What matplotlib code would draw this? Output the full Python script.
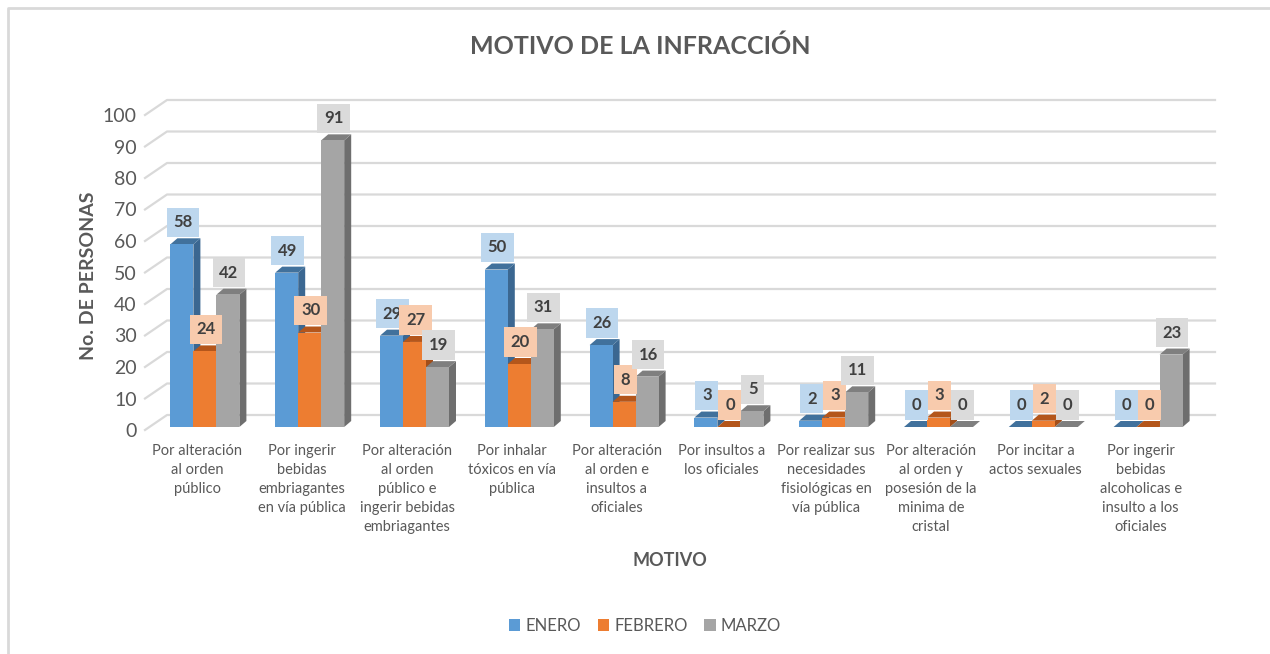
import matplotlib
matplotlib.use("Agg")
import matplotlib.pyplot as plt
from matplotlib.patches import Polygon, Patch
from matplotlib.lines import Line2D
import numpy as np

plt.rcParams['font.family'] = ['Lato', 'DejaVu Sans']

categories = [
    "Por alteración\nal orden\npúblico",
    "Por ingerir\nbebidas\nembriagantes\nen vía pública",
    "Por alteración\nal orden\npúblico e\ningerir bebidas\nembriagantes",
    "Por inhalar\ntóxicos en vía\npública",
    "Por alteración\nal orden e\ninsultos a\noficiales",
    "Por insultos a\nlos oficiales",
    "Por realizar sus\nnecesidades\nfisiológicas en\nvía pública",
    "Por alteración\nal orden y\nposesión de la\nminima de\ncristal",
    "Por incitar a\nactos sexuales",
    "Por ingerir\nbebidas\nalcoholicas e\ninsulto a los\noficiales",
]
series_names = ["ENERO", "FEBRERO", "MARZO"]
enero = [58, 49, 29, 50, 26, 3, 2, 0, 0, 0]
febrero = [24, 30, 27, 20, 8, 0, 3, 3, 2, 0]
marzo = [42, 91, 19, 31, 16, 5, 11, 0, 0, 23]
yticks = list(range(0, 101, 10))

front_colors = ["#5B9BD5", "#ED7D31", "#A5A5A5"]
top_colors = ["#41719C", "#B4561B", "#7F7F7F"]
side_colors = ["#3B6791", "#A34E19", "#6E6E6E"]
label_bg = ["#BDD7EE", "#F8CBAD", "#DBDBDB"]
text_grey = "#595959"

W, H = 1270, 654
fig = plt.figure(figsize=(W / 100, H / 100), dpi=100)
# front plane of the plot: x 145..1193 px, y 430..115 px
ax = fig.add_axes([145 / W, (H - 430) / H, 1048 / W, 315 / H])
ax.set_xlim(0, 10)
ax.set_ylim(0, 100)
for s in ax.spines.values():
    s.set_visible(False)

px_x = 1048 / 10.0   # pixels per category
px_y = 315 / 100.0   # pixels per unit

# depth of the back wall and of each bar, in data units
wall_dx, wall_dy = 22 / px_x, 15 / px_y
bar_dx, bar_dy = 7 / px_x, 6 / px_y
off_x, off_y = 7.5 / px_x, 3 / px_y
bar_w = 23 / px_x

# gridlines on the floor stub and back wall
for v in yticks:
    ax.add_line(Line2D([0, wall_dx, 10 + wall_dx], [v, v + wall_dy, v + wall_dy],
                       color="#D9D9D9", lw=1.6, zorder=1, clip_on=False))

n = len(categories)
data = [enero, febrero, marzo]
group_w = bar_w * len(data)
for i in range(n):
    left0 = i + 0.5 - group_w / 2 + off_x
    for k, vals in enumerate(data):
        v = vals[i]
        x0 = left0 + k * bar_w
        x1 = x0 + bar_w
        y0 = off_y
        y1 = off_y + v
        z = 3 + i * 0.01 + k * 0.001
        # side face
        ax.add_patch(Polygon([(x1, y0), (x1 + bar_dx, y0 + bar_dy), (x1 + bar_dx, y1 + bar_dy), (x1, y1)],
                             closed=True, fc=side_colors[k], ec="none", zorder=z, clip_on=False))
        # top face
        ax.add_patch(Polygon([(x0, y1), (x0 + bar_dx, y1 + bar_dy), (x1 + bar_dx, y1 + bar_dy), (x1, y1)],
                             closed=True, fc=top_colors[k], ec="none", zorder=z, clip_on=False))
        # front face
        ax.add_patch(Polygon([(x0, y0), (x1, y0), (x1, y1), (x0, y1)],
                             closed=True, fc=front_colors[k], ec="none", zorder=z, clip_on=False))

# data labels
for i in range(n):
    left0 = i + 0.5 - group_w / 2 + off_x
    for k, vals in enumerate(data):
        v = vals[i]
        cx = left0 + (k + 0.5) * bar_w + 0.01
        ax.text(cx, off_y + v + 7.0, str(v), ha="center", va="center",
                fontsize=12, fontweight="bold", color="#404040", zorder=10 + k,
                bbox=dict(boxstyle="square,pad=0.4", fc=label_bg[k], ec="none"),
                clip_on=False)

# axes ticks
ax.set_yticks(yticks)
ax.set_yticklabels([str(t) for t in yticks], fontsize=14, color=text_grey)
ax.tick_params(axis="y", length=0, pad=6)
ax.set_xticks([])

for i, cat in enumerate(categories):
    ax.text(i + 0.5, -4.5, cat, ha="center", va="top", fontsize=10.5,
            color=text_grey, linespacing=1.45, clip_on=False)

fig.text(88 / W, 1 - 276 / H, "No. DE PERSONAS", rotation=90, ha="center", va="center",
         fontsize=14, fontweight="bold", color=text_grey)
fig.text(670 / W, 1 - 561 / H, "MOTIVO", ha="center", va="center",
         fontsize=13, fontweight="bold", color=text_grey)
fig.text(640 / W, 1 - 46 / H, "MOTIVO DE LA INFRACCIÓN", ha="center", va="center",
         fontsize=18, fontweight="bold", color=text_grey)

handles = [Patch(fc=c, ec="none") for c in front_colors]
fig.legend(handles, series_names, loc="center", bbox_to_anchor=(645 / W, 1 - 626 / H),
           ncol=3, frameon=False, fontsize=12, handlelength=0.7, handleheight=0.7,
           handletextpad=0.3, columnspacing=1.0, labelcolor=text_grey)

# chart border (top and left edges visible)
fig.add_artist(Line2D([8 / W, 8 / W, 1.0], [0.0, 1 - 8 / H, 1 - 8 / H],
                      transform=fig.transFigure, color="#D9D9D9", lw=2))

fig.savefig("out.png", dpi=100)
